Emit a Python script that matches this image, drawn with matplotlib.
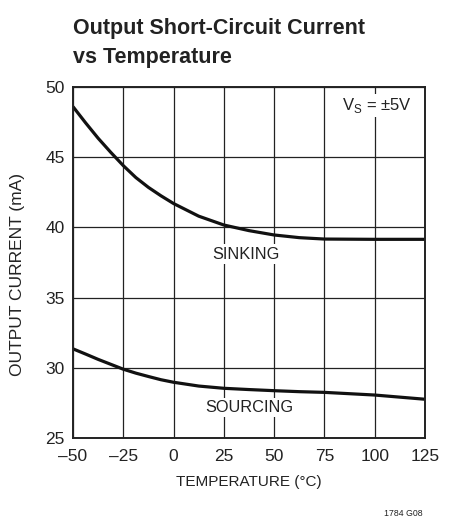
import numpy as np
import matplotlib.pyplot as plt

# data
temp = [-50, -43.75, -37.5, -31.25, -25, -18.75, -12.5, -6.25, 0, 12.5, 25, 37.5, 50, 62.5, 75, 100, 125]
sinking = [48.6, 47.45, 46.35, 45.35, 44.4, 43.55, 42.85, 42.25, 41.7, 40.8, 40.17, 39.77, 39.46, 39.27, 39.17, 39.15, 39.15]
sourcing = [31.35, 30.98, 30.6, 30.25, 29.9, 29.62, 29.38, 29.15, 28.97, 28.7, 28.54, 28.45, 28.37, 28.3, 28.25, 28.06, 27.76]

xticks = [-50, -25, 0, 25, 50, 75, 100, 125]
xlabels = ['\u201350', '\u201325', '0', '25', '50', '75', '100', '125']
yticks = [25, 30, 35, 40, 45, 50]

plt.rcParams['font.family'] = ['Liberation Sans', 'DejaVu Sans']
ink = '#222222'

fig = plt.figure(figsize=(4.51, 5.19), dpi=100)
ax = fig.add_axes([73 / 451, 1 - 438 / 519, 352 / 451, 351 / 519])

ax.plot(temp, sinking, color='#111111', lw=2.3, solid_capstyle='butt')
ax.plot(temp, sourcing, color='#111111', lw=2.3, solid_capstyle='butt')

ax.set_xlim(-50, 125)
ax.set_ylim(25, 50)
ax.set_xticks(xticks)
ax.set_xticklabels(xlabels)
ax.set_yticks(yticks)
ax.tick_params(length=0, labelsize=12.5, pad=6, colors=ink)
ax.tick_params(axis='x', pad=8)
ax.grid(True, color=ink, lw=0.9)
for s in ax.spines.values():
    s.set_linewidth(1.4)
    s.set_color(ink)

ax.set_xlabel('TEMPERATURE (\u00b0C)', fontsize=11, labelpad=8, color=ink)
fig.text(17.5 / 451, 1 - 274 / 519, 'OUTPUT CURRENT (mA)', fontsize=12.5, rotation=90,
         ha='center', va='center', color=ink)

box = dict(facecolor='white', edgecolor='none', pad=1.5)
ax.text(101, 48.7, 'V$_\\mathregular{S}$ = \u00b15V', fontsize=12, ha='center', va='center',
        color=ink, bbox=box)
ax.text(36, 38.1, 'SINKING', fontsize=11.8, ha='center', va='center', color=ink, bbox=box)
ax.text(37.5, 27.15, 'SOURCING', fontsize=11.8, ha='center', va='center', color=ink, bbox=box)

fig.text(73 / 451, 1 - 34 / 519, 'Output Short-Circuit Current',
         fontsize=15.5, fontweight='bold', ha='left', va='baseline', color=ink)
fig.text(73 / 451, 1 - 63 / 519, 'vs Temperature',
         fontsize=15.5, fontweight='bold', ha='left', va='baseline', color=ink)
fig.text(403 / 451, 1 - 513 / 519, '1784 G08', fontsize=6.3, ha='center', va='center', color=ink)

fig.savefig('out.png', dpi=100)
